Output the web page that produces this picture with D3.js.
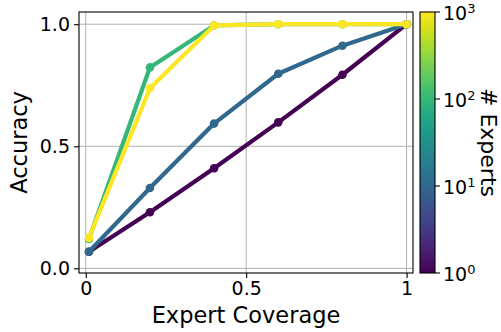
<!DOCTYPE html>
<html>
<head>
<meta charset="utf-8">
<script src="https://cdn.jsdelivr.net/npm/d3@7"></script>
<style>
  html, body { margin: 0; padding: 0; background: #fff; }
  svg { display: block; font-family: "DejaVu Sans", sans-serif; }
</style>
</head>
<body>
<svg id="chart" width="501" height="332"></svg>
<script>
// Expert coverage levels (x) and accuracy per number of experts
const coverage = [0.01, 0.2, 0.4, 0.6, 0.8, 1.0];
const expertCounts = [1, 10, 100, 1000];
const acc1    = [0.068, 0.230, 0.410, 0.598, 0.793, 1.0];
const acc10   = [0.068, 0.329, 0.593, 0.797, 0.912, 1.0];
const acc100  = [0.120, 0.823, 0.995, 1.0, 1.0, 1.0];
const acc1000 = [0.125, 0.738, 0.995, 1.0, 1.0, 1.0];
const accuracySeries = [acc1, acc10, acc100, acc1000];

const xTicks = [0, 0.5, 1];
const xTickLabels = ["0", "0.5", "1"];
const yTicks = [0, 0.5, 1];
const yTickLabels = ["0.0", "0.5", "1.0"];
const cbTicks = [1, 10, 100, 1000];
const cbExponents = ["0", "1", "2", "3"];

const svg = d3.select("#chart");
const plot = { left: 79, right: 413, top: 12, bottom: 273 };

const x = d3.scaleLinear().domain([-0.021, 1.02]).range([plot.left, plot.right]);
const y = d3.scaleLinear().domain([-0.019, 1.05]).range([plot.bottom, plot.top]);
const cScale = d3.scaleLog().domain([1, 1000]).range([0, 1]);
const color = n => d3.interpolateViridis(cScale(n));

const tickFont = 19;
const labelFont = 22.5;

// grid
const grid = svg.append("g");
xTicks.forEach(t => grid.append("line")
  .attr("x1", x(t)).attr("x2", x(t)).attr("y1", plot.top).attr("y2", plot.bottom)
  .attr("stroke", "#b0b0b0").attr("stroke-width", 1));
yTicks.forEach(t => grid.append("line")
  .attr("y1", y(t)).attr("y2", y(t)).attr("x1", plot.left).attr("x2", plot.right)
  .attr("stroke", "#b0b0b0").attr("stroke-width", 1));

// lines and markers
const line = d3.line().x((d, i) => x(coverage[i])).y(d => y(d));
accuracySeries.forEach((vals, k) => {
  const c = color(expertCounts[k]);
  svg.append("path").datum(vals)
    .attr("d", line).attr("fill", "none")
    .attr("stroke", c).attr("stroke-width", 4.2)
    .attr("stroke-linejoin", "round").attr("stroke-linecap", "round");
  svg.append("g").selectAll("circle").data(vals).join("circle")
    .attr("cx", (d, i) => x(coverage[i])).attr("cy", d => y(d))
    .attr("r", 4.3).attr("fill", c);
});

// axes
const xAxis = d3.axisBottom(x).tickValues(xTicks).tickFormat((d, i) => xTickLabels[i])
  .tickSize(5).tickPadding(4);
const yAxis = d3.axisLeft(y).tickValues(yTicks).tickFormat((d, i) => yTickLabels[i])
  .tickSize(5).tickPadding(4);
const gx = svg.append("g").attr("transform", `translate(0,${plot.bottom})`).call(xAxis);
const gy = svg.append("g").attr("transform", `translate(${plot.left},0)`).call(yAxis);
[gx, gy].forEach(g => {
  g.select(".domain").remove();
  g.selectAll("line").attr("stroke", "#000").attr("stroke-width", 1.1);
  g.selectAll("text").attr("font-size", tickFont).attr("fill", "#000")
    .attr("font-family", "DejaVu Sans");
});

// spines
svg.append("rect").attr("x", plot.left).attr("y", plot.top)
  .attr("width", plot.right - plot.left).attr("height", plot.bottom - plot.top)
  .attr("fill", "none").attr("stroke", "#000").attr("stroke-width", 1.1);

// axis titles
svg.append("text").attr("x", (plot.left + plot.right) / 2).attr("y", 323)
  .attr("text-anchor", "middle").attr("font-size", labelFont).text("Expert Coverage");
svg.append("text")
  .attr("transform", `translate(27,${(plot.top + plot.bottom) / 2}) rotate(-90)`)
  .attr("text-anchor", "middle").attr("font-size", labelFont).text("Accuracy");

// colorbar
const cb = { left: 420, right: 435, top: plot.top, bottom: plot.bottom };
const cbY = d3.scaleLog().domain([1, 1000]).range([cb.bottom, cb.top]);
const defs = svg.append("defs");
const grad = defs.append("linearGradient").attr("id", "viridis")
  .attr("x1", 0).attr("y1", 1).attr("x2", 0).attr("y2", 0);
d3.range(0, 1.0001, 0.05).forEach(t => grad.append("stop")
  .attr("offset", t).attr("stop-color", d3.interpolateViridis(t)));
svg.append("rect").attr("x", cb.left).attr("y", cb.top)
  .attr("width", cb.right - cb.left).attr("height", cb.bottom - cb.top)
  .attr("fill", "url(#viridis)").attr("stroke", "#000").attr("stroke-width", 1.1);

const cbAxis = svg.append("g");
cbTicks.forEach((t, i) => {
  const yy = cbY(t);
  cbAxis.append("line").attr("x1", cb.right).attr("x2", cb.right + 5)
    .attr("y1", yy).attr("y2", yy).attr("stroke", "#000").attr("stroke-width", 1.1);
  const txt = cbAxis.append("text").attr("x", cb.right + 8).attr("y", yy + 7.5)
    .attr("font-size", tickFont);
  txt.append("tspan").text("10");
  txt.append("tspan").attr("dy", -7).attr("font-size", 13).text(cbExponents[i]);
});

svg.append("text")
  .attr("transform", `translate(481,${(cb.top + cb.bottom) / 2}) rotate(90)`)
  .attr("text-anchor", "middle").attr("font-size", 22).text("# Experts");
</script>
</body>
</html>
